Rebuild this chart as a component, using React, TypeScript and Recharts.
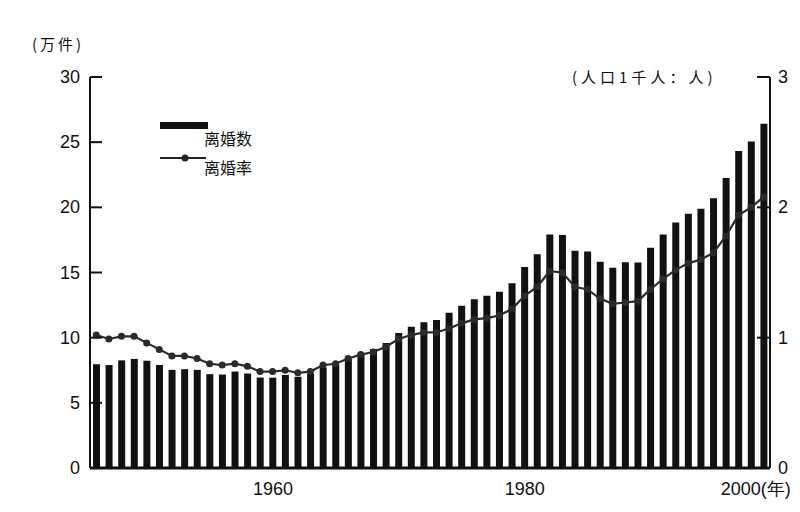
import { ComposedChart, Bar, Line, XAxis, YAxis } from 'recharts';

const years = [
  1947, 1948, 1949, 1950, 1951, 1952, 1953, 1954, 1955, 1956, 1957, 1958, 1959,
  1960, 1961, 1962, 1963, 1964, 1965, 1966, 1967, 1968, 1969, 1970, 1971, 1972,
  1973, 1974, 1975, 1976, 1977, 1978, 1979, 1980, 1981, 1982, 1983, 1984, 1985,
  1986, 1987, 1988, 1989, 1990, 1991, 1992, 1993, 1994, 1995, 1996, 1997, 1998,
  1999, 2000,
];

// 离婚数（万件）
const divorces = [
  7.96, 7.9, 8.26, 8.37, 8.23, 7.9, 7.53, 7.58, 7.53, 7.2, 7.17, 7.4, 7.25,
  6.94, 6.93, 7.14, 7.0, 7.23, 7.72, 7.94, 8.35, 8.73, 9.13, 9.59, 10.36, 10.84,
  11.19, 11.36, 11.91, 12.45, 12.95, 13.21, 13.53, 14.17, 15.42, 16.4, 17.92, 17.87, 16.66,
  16.61, 15.82, 15.36, 15.78, 15.76, 16.9, 17.92, 18.83, 19.51, 19.9, 20.7, 22.26, 24.32,
  25.05, 26.42,
];

// 离婚率（人口1千人：人）
const rates = [
  1.02, 0.99, 1.01, 1.01, 0.96, 0.91, 0.86, 0.86, 0.84, 0.8, 0.79, 0.8, 0.78,
  0.74, 0.74, 0.75, 0.73, 0.74, 0.79, 0.8, 0.84, 0.87, 0.89, 0.93, 0.99, 1.02,
  1.04, 1.04, 1.07, 1.11, 1.14, 1.15, 1.17, 1.22, 1.32, 1.39, 1.51, 1.5, 1.39,
  1.37, 1.3, 1.26, 1.27, 1.28, 1.37, 1.45, 1.52, 1.57, 1.6, 1.65, 1.78, 1.94,
  2.0, 2.08,
];

const leftTicks = [0, 5, 10, 15, 20, 25, 30];
const rightTicks = [0, 1, 2, 3];
const yearTicks = [1960, 1980, 2000];

const data = years.map((year, i) => ({ year, count: divorces[i], rate: rates[i] }));

const numFont = "'Liberation Sans Narrow', 'Liberation Sans', sans-serif";
const cjkFont = "'Noto Sans CJK SC', sans-serif";

function LeftTick({ x, y, payload }: any) {
  return (
    <g>
      {payload.value > 0 && <line x1={x} y1={y} x2={x + 12} y2={y} stroke="#111" strokeWidth={2} />}
      <text x={x - 10} y={y} dy={6} textAnchor="end" fontSize={18} fontFamily={numFont} fill="#111">
        {payload.value}
      </text>
    </g>
  );
}

function RightTick({ x, y, payload }: any) {
  return (
    <g>
      {payload.value > 0 && <line x1={x} y1={y} x2={x - 13} y2={y} stroke="#111" strokeWidth={2} />}
      <text x={x + 8} y={y} dy={6} textAnchor="start" fontSize={18} fontFamily={numFont} fill="#111">
        {payload.value}
      </text>
    </g>
  );
}

function YearTick({ x, y, payload }: any) {
  const last = payload.value === 2000;
  return (
    <text
      x={last ? x + 27 : x + 13}
      y={y}
      dy={25}
      textAnchor={last ? 'end' : 'middle'}
      fontSize={18}
      fontFamily={numFont}
      fill="#111"
    >
      {last ? `${payload.value}(年)` : payload.value}
    </text>
  );
}

function LegendBox() {
  return (
    <svg width={130} height={62} style={{ position: 'absolute', left: 160, top: 117 }}>
      <rect x={0} y={5} width={48} height={7} fill="#111" />
      <text x={44} y={28} fontSize={16} fontFamily={cjkFont} fill="#111">离婚数</text>
      <line x1={0} y1={41} x2={46} y2={41} stroke="#222" strokeWidth={2} />
      <circle cx={25} cy={41} r={3.5} fill="#222" />
      <text x={44} y={57} fontSize={16} fontFamily={cjkFont} fill="#111">离婚率</text>
    </svg>
  );
}

export default function App() {
  return (
    <div style={{ position: 'relative', width: 800, height: 512, background: '#fff' }}>
      <style>{'body{margin:0}'}</style>
      <div style={{ position: 'absolute', left: 32, top: 33, fontSize: 15, fontFamily: cjkFont, letterSpacing: 3, color: '#111' }}>
        (万件)
      </div>
      <div style={{ position: 'absolute', left: 572, top: 66, fontSize: 15, fontFamily: cjkFont, letterSpacing: 4, color: '#111' }}>
        (人口1千人：人)
      </div>
      <ComposedChart width={800} height={512} data={data} margin={{ top: 77, right: 0, bottom: 14, left: 40 }} barCategoryGap={0}>
        <XAxis
          dataKey="year"
          ticks={yearTicks}
          interval={0}
          tick={<YearTick />}
          tickLine={false}
          tickSize={0}
          height={30}
          axisLine={{ stroke: '#111', strokeWidth: 3 }}
        />
        <YAxis
          yAxisId="left"
          domain={[0, 30]}
          ticks={leftTicks}
          tick={<LeftTick />}
          tickLine={false}
          tickSize={0}
          tickMargin={0}
          width={50}
          axisLine={{ stroke: '#111', strokeWidth: 2 }}
        />
        <YAxis
          yAxisId="right"
          orientation="right"
          domain={[0, 3]}
          ticks={rightTicks}
          tick={<RightTick />}
          tickLine={false}
          tickSize={0}
          tickMargin={0}
          width={30}
          axisLine={{ stroke: '#111', strokeWidth: 2 }}
        />
        <Bar yAxisId="left" dataKey="count" name="离婚数" fill="#111" barSize={7} isAnimationActive={false} />
        <Line
          yAxisId="right"
          dataKey="rate"
          name="离婚率"
          type="linear"
          stroke="#2a2a2a"
          strokeWidth={2.2}
          dot={{ r: 3.5, fill: '#2a2a2a', stroke: '#2a2a2a', strokeWidth: 0 }}
          isAnimationActive={false}
        />
      </ComposedChart>
      <LegendBox />
    </div>
  );
}
